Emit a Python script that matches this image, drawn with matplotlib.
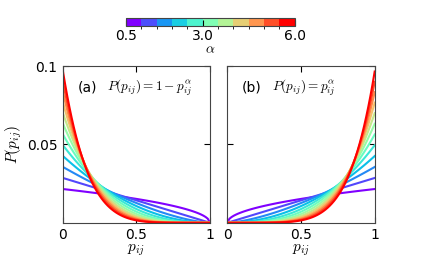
import numpy as np
import matplotlib
matplotlib.use("Agg")
import matplotlib.pyplot as plt
import matplotlib as mpl

# exponents shown in the colour bar
alphas = [0.5, 1.0, 1.5, 2.0, 2.5, 3.0, 3.5, 4.0, 4.5, 5.0, 5.5, 6.0]
n_points = 70  # number of p_ij samples per curve
cbar_ticks = [0.5, 3.0, 6.0]
x_ticks = [0, 0.5, 1]
x_ticklabels = ["0", "0.5", "1"]
y_ticks = [0.05, 0.1]
y_ticklabels = ["0.05", "0.1"]
panel_labels = ["(a)", "(b)"]
panel_formulas = [r"$P(p_{ij})=1-p_{ij}^{\alpha}$", r"$P(p_{ij})=p_{ij}^{\alpha}$"]

plt.rcParams["mathtext.fontset"] = "cm"
plt.rcParams["font.size"] = 10

fig = plt.figure(figsize=(4.21, 2.63), dpi=100)
ax1 = fig.add_axes([0.1496, 0.153, 0.349, 0.596])
ax2 = fig.add_axes([0.540, 0.153, 0.350, 0.596])
cax = fig.add_axes([0.299, 0.902, 0.401, 0.030])

cmap = plt.get_cmap("rainbow")
norm = mpl.colors.Normalize(vmin=alphas[0], vmax=alphas[-1])

p = np.linspace(0, 1, n_points)
for a in alphas:
    col = cmap(norm(a))
    left = (1 - p) ** a
    ax1.plot(p, left / left.sum(), color=col, lw=1.5)
    right = p ** a
    ax2.plot(p, right / right.sum(), color=col, lw=1.5)

for i, ax in enumerate([ax1, ax2]):
    ax.set_xlim(0, 1)
    ax.set_ylim(0, 0.1)
    ax.set_xticks(x_ticks)
    ax.set_xticklabels(x_ticklabels)
    ax.set_yticks(y_ticks)
    ax.tick_params(direction="in", top=True, right=True, length=4, pad=4)
    ax.set_xlabel(r"$p_{ij}$", fontsize=11, labelpad=0)
    for s in ax.spines.values():
        s.set_color("#444444")
    ax.text(0.10, 0.86, panel_labels[i], transform=ax.transAxes, fontsize=10, va="center")
    ax.text(0.30, 0.86, panel_formulas[i], transform=ax.transAxes, fontsize=9.5, va="center")
ax1.set_yticklabels(y_ticklabels)
ax2.set_yticklabels([])
ax1.set_ylabel(r"$P(p_{ij})$", fontsize=11, labelpad=2)

bounds = np.arange(0.5, 6.01, 0.5)
dcmap = plt.get_cmap("rainbow", len(bounds) - 1)
bnorm = mpl.colors.BoundaryNorm(bounds, dcmap.N)
sm = mpl.cm.ScalarMappable(norm=bnorm, cmap=dcmap)
cb = fig.colorbar(sm, cax=cax, orientation="horizontal", ticks=cbar_ticks)
cb.set_ticklabels(["0.5", "3.0", "6.0"])
cb.ax.tick_params(direction="in", length=4, pad=2)
cb.set_label(r"$\alpha$", fontsize=10, labelpad=0)
cb.outline.set_edgecolor("#444444")

fig.savefig("out.png", dpi=100)
